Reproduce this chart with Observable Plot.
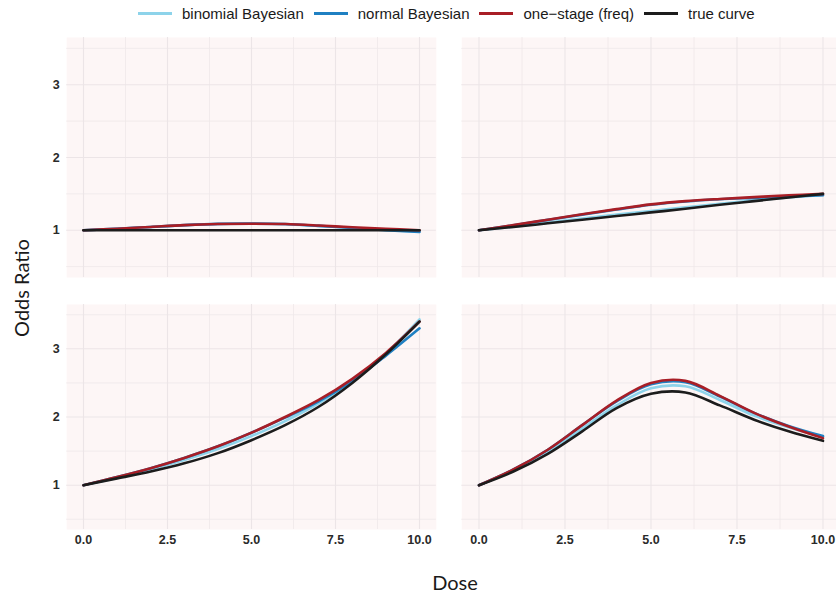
<!DOCTYPE html>
<html>
<head>
<meta charset="utf-8">
<script src="https://cdn.jsdelivr.net/npm/d3@7"></script>
<script src="https://cdn.jsdelivr.net/npm/@observablehq/plot@0.6"></script>
<style>
  html, body { margin: 0; padding: 0; background: #ffffff; }
  #wrap { position: relative; width: 836px; height: 594px; overflow: hidden; background: #fff; }
  #wrap svg { position: absolute; left: 0; top: 0; }
  #legend { position: absolute; top: 5px; left: 138px; display: flex; align-items: center;
            font-family: "Liberation Sans", Arial, sans-serif; font-size: 15px; color: #1a1a1a; white-space: nowrap; }
  .item { display: flex; align-items: center; margin-right: 10px; }
  .sw { width: 34px; height: 3px; margin-right: 10px; }
  #ylab { position: absolute; left: 21px; top: 288px; transform: translate(-50%, -50%) rotate(-90deg);
          font-family: Lato, "Open Sans", sans-serif; font-size: 20px; color: #1a1a1a; white-space: nowrap; }
  #xlab { position: absolute; left: 455px; top: 582px; transform: translate(-50%, -50%);
          font-family: Lato, "Open Sans", sans-serif; font-size: 20px; color: #1a1a1a; white-space: nowrap; }
</style>
</head>
<body>
<div id="wrap">
  <div id="legend"></div>
  <div id="ylab">Odds Ratio</div>
  <div id="xlab">Dose</div>
</div>
<script>
// ---- data ----
const doses = [0, 1, 2, 3, 4, 5, 6, 7, 8, 9, 10];
const seriesNames = ["binomial Bayesian", "normal Bayesian", "one\u2212stage (freq)", "true curve"];
const seriesColors = ["#8dd3ea", "#1f80c2", "#a81e26", "#1c1c1c"];
const xMajorTicks = [0, 2.5, 5, 7.5, 10];
const xMinorTicks = [1.25, 3.75, 6.25, 8.75];
const yMajorTicks = [1, 2, 3];
const yMinorTicks = [0.5, 1.5, 2.5, 3.5];

// top-left panel
const tlBinomial = [1.00, 1.02, 1.045, 1.068, 1.085, 1.09, 1.083, 1.06, 1.035, 1.005, 0.985];
const tlNormal   = [1.00, 1.02, 1.045, 1.07, 1.088, 1.092, 1.085, 1.06, 1.03, 1.00, 0.975];
const tlOneStage = [1.00, 1.02, 1.045, 1.07, 1.085, 1.09, 1.085, 1.065, 1.04, 1.02, 1.00];
const tlTrue     = [1.00, 1.00, 1.00, 1.00, 1.00, 1.00, 1.00, 1.00, 1.00, 1.00, 1.00];

// top-right panel
const trBinomial = [1.00, 1.05, 1.105, 1.16, 1.215, 1.265, 1.315, 1.365, 1.41, 1.45, 1.485];
const trNormal   = [1.00, 1.068, 1.142, 1.215, 1.285, 1.35, 1.395, 1.425, 1.445, 1.465, 1.48];
const trOneStage = [1.00, 1.07, 1.145, 1.22, 1.29, 1.355, 1.40, 1.43, 1.455, 1.48, 1.50];
const trTrue     = [1.00, 1.045, 1.095, 1.145, 1.195, 1.245, 1.295, 1.35, 1.40, 1.45, 1.50];

// bottom-left panel
const blBinomial = [1.00, 1.11, 1.23, 1.37, 1.53, 1.72, 1.94, 2.20, 2.52, 2.93, 3.43];
const blNormal   = [1.00, 1.12, 1.25, 1.40, 1.57, 1.77, 1.99, 2.23, 2.53, 2.90, 3.30];
const blOneStage = [1.00, 1.12, 1.25, 1.40, 1.57, 1.77, 2.00, 2.25, 2.56, 2.94, 3.40];
const blTrue     = [1.00, 1.10, 1.20, 1.32, 1.47, 1.66, 1.88, 2.15, 2.50, 2.92, 3.40];

// bottom-right panel
const brBinomial = [1.00, 1.22, 1.49, 1.83, 2.17, 2.42, 2.45, 2.25, 2.02, 1.85, 1.71];
const brNormal   = [1.00, 1.23, 1.52, 1.88, 2.23, 2.48, 2.51, 2.30, 2.06, 1.87, 1.72];
const brOneStage = [1.00, 1.23, 1.52, 1.88, 2.24, 2.50, 2.53, 2.31, 2.06, 1.86, 1.69];
const brTrue     = [1.00, 1.20, 1.46, 1.79, 2.13, 2.34, 2.36, 2.17, 1.96, 1.79, 1.65];

function toRows(lists) {
  const rows = [];
  lists.forEach((vals, i) => vals.forEach((v, j) => rows.push({dose: doses[j], or: v, series: seriesNames[i]})));
  return rows;
}

const W = 840, H = 594;
function panel(lists, frame, showX, showY) {
  const [L, R, T, B] = frame;
  const marks = [
    Plot.frame({fill: "#fdf6f6", stroke: null}),
    Plot.gridX(xMinorTicks, {stroke: "#efe8ea", strokeOpacity: 1, strokeWidth: 0.8}),
    Plot.gridY(yMinorTicks, {stroke: "#efe8ea", strokeOpacity: 1, strokeWidth: 0.8}),
    Plot.gridX(xMajorTicks, {stroke: "#ece5e7", strokeOpacity: 1, strokeWidth: 1.1}),
    Plot.gridY(yMajorTicks, {stroke: "#ece5e7", strokeOpacity: 1, strokeWidth: 1.1}),
    Plot.line(toRows(lists), {x: "dose", y: "or", z: "series", stroke: "series",
      curve: "catmull-rom", strokeWidth: 2.6})
  ];
  if (showX) marks.push(Plot.axisX(xMajorTicks, {tickSize: 0, tickPadding: 6, tickFormat: d3.format(".1f"),
    fontSize: 12.5, fontWeight: "bold", fontFamily: "Liberation Sans, Arial, sans-serif", fill: "#2a2a2a", label: null}));
  if (showY) marks.push(Plot.axisY(yMajorTicks, {tickSize: 0, tickPadding: 7, tickFormat: d3.format("d"),
    fontSize: 12.5, fontWeight: "bold", fontFamily: "Liberation Sans, Arial, sans-serif", fill: "#2a2a2a", label: null}));
  return Plot.plot({
    width: W, height: H,
    marginLeft: L, marginRight: W - R, marginTop: T, marginBottom: H - B,
    x: {domain: [-0.5, 10.5], axis: null},
    y: {domain: [0.35, 3.65], axis: null},
    color: {domain: seriesNames, range: seriesColors},
    style: {background: "transparent", maxWidth: "none", overflow: "visible"},
    marks
  });
}

const wrap = document.getElementById("wrap");
wrap.appendChild(panel([tlBinomial, tlNormal, tlOneStage, tlTrue], [66.2, 435.8, 37, 277], false, true));
wrap.appendChild(panel([trBinomial, trNormal, trOneStage, trTrue], [461.3, 839.7, 37, 277], false, false));
wrap.appendChild(panel([blBinomial, blNormal, blOneStage, blTrue], [66.2, 435.8, 304, 529], true, true));
wrap.appendChild(panel([brBinomial, brNormal, brOneStage, brTrue], [461.3, 839.7, 304, 529], true, false));

const legend = document.getElementById("legend");
seriesNames.forEach((name, i) => {
  const item = document.createElement("div");
  item.className = "item";
  const sw = document.createElement("div");
  sw.className = "sw";
  sw.style.background = seriesColors[i];
  const label = document.createElement("span");
  label.textContent = name;
  item.appendChild(sw);
  item.appendChild(label);
  legend.appendChild(item);
});
</script>
</body>
</html>
